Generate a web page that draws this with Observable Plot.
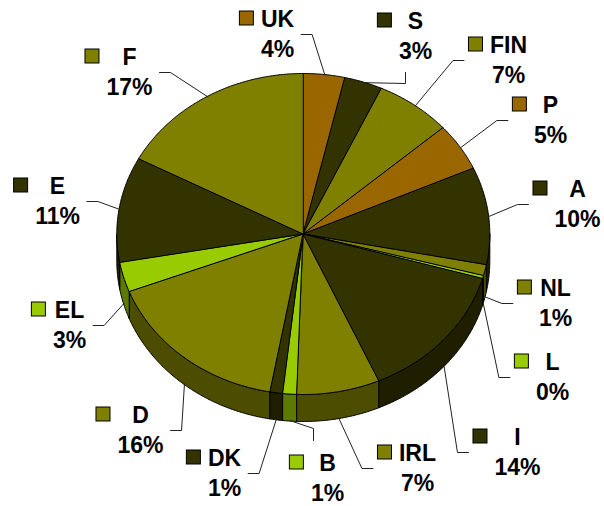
<!DOCTYPE html>
<html><head><meta charset="utf-8">
<script src="https://cdn.jsdelivr.net/npm/d3@7"></script>
<script src="https://cdn.jsdelivr.net/npm/@observablehq/plot@0.6"></script>
<style>body{margin:0;background:#fff}</style>
</head><body><div id="chart"></div>
<script>
// ---- data ----
const countries = ["UK","S","FIN","P","A","NL","L","I","IRL","B","DK","D","EL","E","F"];
const shares = [3.6,3.3,6.6,4.8,9.8,1.1,0.3,13.9,7.2,1.2,1.1,16.3,3.0,10.6,17.2];
const sliceColors = ["#996600","#333300","#808000","#996600","#333300","#808000","#99CC00","#333300","#808000","#99CC00","#333300","#808000","#99CC00","#333300","#808000"];

// ---- layout (label placement, in the chart's own units) ----
const labelCenters = [[277,19],[415,21],[508,45],[550,105],[577,189],[555,288],[552,362],[517,437],[417,453],[327,463],[224,458],[140,415],[69,310],[57,186],[129,57]];
const leaderSides = ["L","B","R","R","R","R","R","R","R","T","L","L","L","L","L"];
const CX = 303.3, CY = 234, RX = 186.5, RY = 160.5, DEPTH = 27;
const FONT = "'Liberation Sans', Arial, sans-serif";
const FS = 23, LINE = 30, KEY = 14, GAP = 7;

const ctx = document.createElement("canvas").getContext("2d");
ctx.font = `bold ${FS}px ${FONT}`;
const tw = s => ctx.measureText(s).width;

function darker(c, k) {
  const col = d3.rgb(c);
  return d3.rgb(col.r * k, col.g * k, col.b * k).formatHex();
}
const ex = a => CX + RX * Math.sin(a);
const ey = a => CY - RY * Math.cos(a);

const total = d3.sum(shares);
const arcs = d3.pie().sort(null).startAngle(0).endAngle(2 * Math.PI)(shares);

const topPts = [], wallPts = [];
arcs.forEach((arc, i) => {
  const a0 = arc.startAngle, a1 = arc.endAngle;
  const n = Math.max(2, Math.ceil((a1 - a0) / (Math.PI / 360))) + 1;
  for (let k = 0; k < n; k++) {
    const a = a0 + (a1 - a0) * k / (n - 1);
    topPts.push({id: i, cx: CX, cy: CY, x: ex(a), y: ey(a), fill: sliceColors[i]});
  }
  const b0 = Math.max(a0, Math.PI / 2), b1 = Math.min(a1, 3 * Math.PI / 2);
  if (b1 > b0) {
    const m = Math.max(2, Math.ceil((b1 - b0) / (Math.PI / 360))) + 1;
    for (let k = 0; k < m; k++) {
      const a = b0 + (b1 - b0) * k / (m - 1);
      wallPts.push({id: i, x: ex(a), y: ey(a), yb: ey(a) + DEPTH, fill: darker(sliceColors[i], 0.6)});
    }
  }
});

const labels = countries.map((c, i) => {
  const [cx, yName] = labelCenters[i];
  const pct = Math.round(shares[i] / total * 100) + "%";
  const bw = Math.max(tw(c), tw(pct));
  const keyRight = cx - bw / 2 - GAP;
  return {i, name: c, pct, cx, yName, yPct: yName + LINE, bw, keyRight, fill: sliceColors[i]};
});

const keys = labels.map(l => ({x1: l.keyRight - KEY, x2: l.keyRight, y1: l.yName - KEY / 2 - 1, y2: l.yName + KEY / 2 - 1, fill: l.fill}));

const leaderPts = [];
labels.forEach((l, i) => {
  const mid = (arcs[i].startAngle + arcs[i].endAngle) / 2;
  let px = ex(mid), py = ey(mid);
  if (Math.cos(mid) < 0) py += DEPTH - 1;
  const my = (l.yName + l.yPct) / 2;
  let anchor, elbow;
  switch (leaderSides[i]) {
    case "L": anchor = [l.cx + l.bw / 2 + GAP, my]; elbow = [anchor[0] + 11, my]; break;
    case "R": anchor = [l.keyRight - KEY - 5, my]; elbow = [anchor[0] - 11, my]; break;
    case "B": anchor = [l.cx - 10, l.yName + 51]; elbow = [anchor[0], anchor[1] + 11]; break;
    case "T": anchor = [l.cx - 14, l.yName - 23]; elbow = [anchor[0], anchor[1] - 12]; break;
  }
  [anchor, elbow, [px, py]].forEach(p => leaderPts.push({id: i, x: p[0], y: p[1]}));
});

const chart = Plot.plot({
  width: 604, height: 506, margin: 0,
  x: {domain: [0, 604], range: [0, 604], axis: null},
  y: {domain: [0, 506], range: [0, 506], axis: null},
  color: {type: "identity"},
  style: {background: "#fff", fontFamily: FONT},
  marks: [
    Plot.area(wallPts, {x1: "x", y1: "y", x2: "x", y2: "yb", z: "id", fill: "fill", stroke: "#000", strokeWidth: 1}),
    Plot.area(topPts, {x1: "cx", y1: "cy", x2: "x", y2: "y", z: "id", fill: "fill", stroke: "#000", strokeWidth: 1}),
    Plot.line(leaderPts, {x: "x", y: "y", z: "id", stroke: "#222", strokeWidth: 1}),
    Plot.rect(keys, {x1: "x1", x2: "x2", y1: "y1", y2: "y2", fill: "fill", stroke: "#000", strokeWidth: 1}),
    Plot.text(labels, {x: "cx", y: "yName", text: "name", fontSize: FS, fontWeight: "bold", fill: "#000", fontFamily: FONT}),
    Plot.text(labels, {x: "cx", y: "yPct", text: "pct", fontSize: FS, fontWeight: "bold", fill: "#000", fontFamily: FONT})
  ]
});
document.getElementById("chart").append(chart);
</script>
</body></html>
